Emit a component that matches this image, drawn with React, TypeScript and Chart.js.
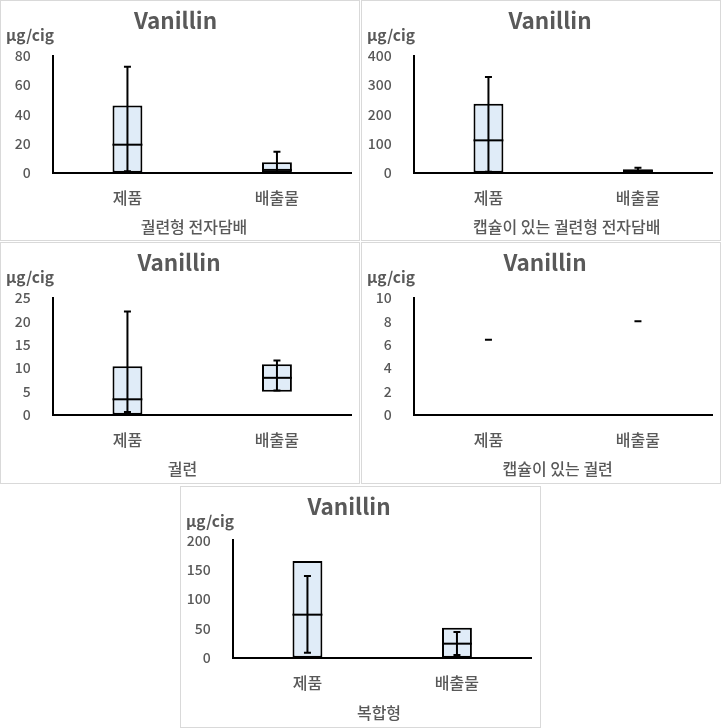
import React, { useEffect, useRef } from 'react';
import { Chart, registerables } from 'chart.js';

Chart.register(...registerables);

const FONT = '"Noto Sans CJK KR", "Noto Sans", sans-serif';
const TEXT_COLOR = '#595959';

// ---- data ----
const categories = ['제품', '배출물'];
const chartTitle = 'Vanillin';
const unitLabel = 'µg/cig';
const groupTitles = ['궐련형 전자담배', '캡슐이 있는 궐련형 전자담배', '궐련', '캡슐이 있는 궐련', '복합형'];
const yMaxes = [80, 400, 25, 10, 200];
const ySteps = [20, 100, 5, 2, 50];
const boxLow = [[0, 0], [0, 0], [0, 4.9], [null, null], [0, 0]];
const boxHigh = [[46, 7.1], [236.6, 12], [10.4, 10.8], [null, null], [164.8, 51.1]];
const medians = [[19.2, 1.9], [110.9, 6], [3.3, 7.9], [null, null], [73.3, 23.9]];
const whiskerLow = [[1, 0.3], [3, 2], [0.6, 5.2], [6.43, 8.0], [8.5, 4.5]];
const whiskerHigh = [[72.7, 14.4], [328, 17], [22.1, 11.6], [6.43, 8.0], [139.2, 43.8]];

// ---- layout (canvas coordinates inside each panel) ----
const panels = [
  { left: 0, top: 0, w: 360, h: 241, chartTop: 55, chartBottom: 171.7, chartRight: 350.7, titleX: 174.5, titleY: 19.5, unitY: 34, axisX: 193, axisY: 226 },
  { left: 361, top: 0, w: 360, h: 241, chartTop: 55, chartBottom: 171.7, chartRight: 350.7, titleX: 188, titleY: 19.5, unitY: 34, axisX: 204.8, axisY: 226 },
  { left: 0, top: 242, w: 360, h: 242, chartTop: 55, chartBottom: 171.7, chartRight: 350.7, titleX: 178, titleY: 19.5, unitY: 34, axisX: 181.5, axisY: 226.3 },
  { left: 361, top: 242, w: 360, h: 242, chartTop: 55, chartBottom: 171.7, chartRight: 350.7, titleX: 183, titleY: 19.5, unitY: 34, axisX: 195.7, axisY: 226.3 },
  { left: 180, top: 486, w: 361, h: 242, chartTop: 53.3, chartBottom: 170.7, chartRight: 350.7, titleX: 168, titleY: 19, unitY: 34, axisX: 198, axisY: 226.3 },
];

const CHART_LEFT = 51.7;

function Panel({ idx }: { idx: number }) {
  const ref = useRef<HTMLCanvasElement | null>(null);
  const p = panels[idx];
  const cw = p.w - 2;
  const ch = p.h - 2;

  useEffect(() => {
    if (!ref.current) return;
    const boxes = boxLow[idx].map((l, j) => (l == null ? null : [l, boxHigh[idx][j] as number]));

    const overlay = {
      id: 'boxOverlay',
      afterDatasetsDraw(chart: any) {
        const { ctx, scales } = chart;
        const xs = scales.x;
        const ys = scales.y;
        const meta = chart.getDatasetMeta(0);
        ctx.save();
        ctx.strokeStyle = '#000';
        categories.forEach((_, j) => {
          const cx = xs.getPixelForValue(j);
          const el = meta.data[j];
          const bw = el && boxes[j] ? el.width : 0;
          const m = medians[idx][j];
          if (m != null && bw) {
            const my = ys.getPixelForValue(m);
            ctx.lineWidth = 2;
            ctx.beginPath();
            ctx.moveTo(cx - bw / 2, my);
            ctx.lineTo(cx + bw / 2, my);
            ctx.stroke();
          }
          const lo = whiskerLow[idx][j];
          const hi = whiskerHigh[idx][j];
          if (lo != null && hi != null) {
            const ly = ys.getPixelForValue(lo);
            const hy = ys.getPixelForValue(hi);
            ctx.lineWidth = 2;
            ctx.beginPath();
            ctx.moveTo(cx, ly);
            ctx.lineTo(cx, hy);
            ctx.stroke();
            const cap = 3.5;
            ctx.beginPath();
            ctx.moveTo(cx - cap, hy);
            ctx.lineTo(cx + cap, hy);
            ctx.moveTo(cx - cap, ly);
            ctx.lineTo(cx + cap, ly);
            ctx.stroke();
          }
        });
        ctx.restore();
      },
      afterDraw(chart: any) {
        const { ctx } = chart;
        ctx.save();
        ctx.fillStyle = TEXT_COLOR;
        ctx.textBaseline = 'middle';
        ctx.textAlign = 'center';
        ctx.font = `bold 22.5px ${FONT}`;
        ctx.fillText(chartTitle, p.titleX, p.titleY);
        ctx.textAlign = 'left';
        ctx.font = `bold 15.5px ${FONT}`;
        ctx.fillText(unitLabel, 5, p.unitY);
        ctx.textAlign = 'center';
        ctx.font = `500 16px ${FONT}`;
        ctx.fillText(groupTitles[idx], p.axisX, p.axisY);
        ctx.restore();
      },
    };

    const chart = new Chart(ref.current, {
      type: 'bar',
      data: {
        labels: categories,
        datasets: [
          {
            data: boxes as any,
            backgroundColor: '#E0ECF8',
            borderColor: '#000',
            borderWidth: 2,
            borderSkipped: false,
            barPercentage: 0.2,
            categoryPercentage: 1,
          },
        ],
      },
      options: {
        responsive: false,
        animation: false,
        devicePixelRatio: 1,
        layout: { padding: { top: p.chartTop, left: 0, right: cw - p.chartRight, bottom: 0 } },
        plugins: { legend: { display: false }, tooltip: { enabled: false }, title: { display: false } },
        scales: {
          x: {
            type: 'category',
            grid: { display: false },
            border: { display: true, color: '#000', width: 2 },
            ticks: { color: TEXT_COLOR, font: { family: FONT, size: 16, weight: '500' }, padding: 8, maxRotation: 0 },
            afterFit: (s: any) => {
              s.height = ch - p.chartBottom;
            },
          },
          y: {
            min: 0,
            max: yMaxes[idx],
            grid: { display: false },
            border: { display: true, color: '#000', width: 2 },
            ticks: { stepSize: ySteps[idx], color: TEXT_COLOR, font: { family: FONT, size: 14, weight: '500' }, padding: 14 },
            afterFit: (s: any) => {
              s.width = CHART_LEFT;
            },
          },
        },
      },
      plugins: [overlay],
    });
    return () => chart.destroy();
  }, [idx]);

  return (
    <div
      style={{
        position: 'absolute',
        left: p.left,
        top: p.top,
        width: p.w,
        height: p.h,
        boxSizing: 'border-box',
        border: '1px solid #D9D9D9',
        background: '#fff',
      }}
    >
      <canvas ref={ref} width={cw} height={ch} style={{ display: 'block', width: cw, height: ch }} />
    </div>
  );
}

export default function App() {
  return (
    <div style={{ position: 'absolute', left: 0, top: 0, width: 721, height: 728, background: '#fff' }}>
      {panels.map((_, i) => (
        <Panel key={i} idx={i} />
      ))}
    </div>
  );
}
